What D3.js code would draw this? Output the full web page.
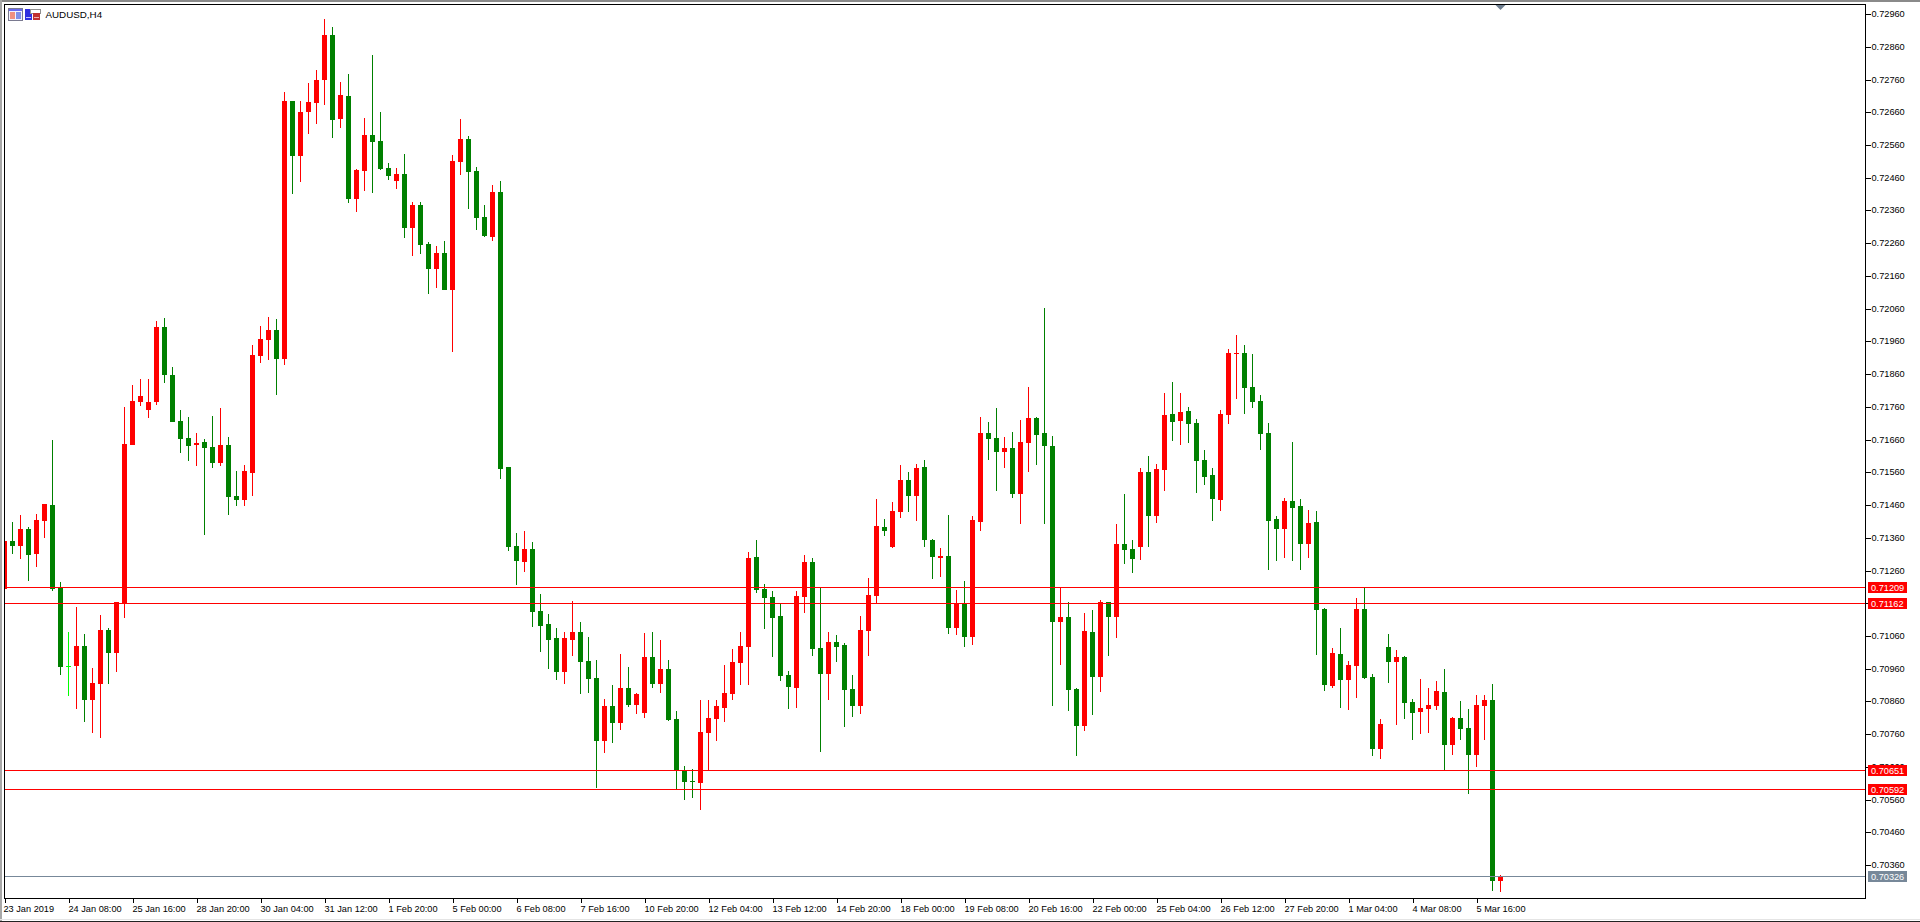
<!DOCTYPE html>
<html>
<head>
<meta charset="utf-8">
<title>AUDUSD,H4</title>
<script src="https://cdnjs.cloudflare.com/ajax/libs/d3/7.8.5/d3.min.js"></script>
<style>
  html, body { margin: 0; padding: 0; background: #fff; overflow: hidden; }
  svg { display: block; }
  text { font-family: "Liberation Sans", Arial, sans-serif; font-size: 9.2px; fill: #000; }
</style>
</head>
<body>
<svg id="chart" width="1920" height="922"></svg>
<script>
// AUDUSD four-hour bars, oldest first
const opens = [
0.71205,0.71351,0.71336,0.71388,0.71312,0.71412,0.71461,0.71209,0.70969,0.70970,
0.71031,0.70866,0.70915,0.71080,0.71009,0.71162,0.71645,0.71776,0.71752,0.71776,
0.72005,0.71859,0.71718,0.71666,0.71645,0.71654,0.71639,0.71590,0.71645,0.71489,
0.71477,0.71559,0.71917,0.71966,0.71996,0.71907,0.72696,0.72528,0.72662,0.72690,
0.72760,0.72897,0.72641,0.72711,0.72396,0.72482,0.72592,0.72574,0.72491,0.72451,
0.72473,0.72308,0.72378,0.72259,0.72182,0.72231,0.72118,0.72509,0.72580,0.72482,
0.72341,0.72280,0.72418,0.71578,0.71336,0.71287,0.71327,0.71138,0.71098,0.71055,
0.70951,0.71049,0.71073,0.70985,0.70933,0.70740,0.70847,0.70795,0.70902,0.70850,
0.70826,0.70997,0.70915,0.70960,0.70808,0.70649,0.70618,0.70612,0.70765,0.70808,
0.70841,0.70884,0.70979,0.71028,0.71303,0.71205,0.71180,0.71122,0.70942,0.70902,
0.71180,0.71287,0.71025,0.70945,0.71043,0.71034,0.70899,0.70847,0.71076,0.71183,
0.71394,0.71333,0.71440,0.71538,0.71489,0.71578,0.71355,0.71300,0.71306,0.71086,
0.71162,0.71058,0.71410,0.71681,0.71666,0.71623,0.71636,0.71495,0.71651,0.71727,
0.71681,0.71642,0.71104,0.71119,0.70899,0.70786,0.71073,0.70936,0.71165,0.71119,
0.71342,0.71327,0.71333,0.71562,0.71428,0.71568,0.71739,0.71718,0.71749,0.71712,
0.71599,0.71553,0.71477,0.71736,0.71923,0.71926,0.71822,0.71779,0.71681,0.71419,
0.71388,0.71474,0.71458,0.71342,0.71410,0.71144,0.70908,0.71006,0.70927,0.70970,
0.71144,0.70936,0.70716,0.71028,0.70982,0.70997,0.70860,0.70829,0.70838,0.70847,
0.70890,0.70728,0.70811,0.70780,0.70698,0.70847,0.70866,0.70313];

const closes = [
0.71351,0.71336,0.71388,0.71309,0.71416,0.71465,0.71205,0.70966,0.70969,0.71031,
0.70866,0.70918,0.71080,0.71009,0.71165,0.71648,0.71779,0.71794,0.71776,0.72005,
0.71859,0.71715,0.71663,0.71642,0.71651,0.71636,0.71590,0.71645,0.71486,0.71477,
0.71565,0.71920,0.71969,0.71996,0.71907,0.72696,0.72528,0.72662,0.72693,0.72760,
0.72897,0.72638,0.72714,0.72396,0.72485,0.72592,0.72570,0.72488,0.72467,0.72473,
0.72308,0.72378,0.72256,0.72182,0.72231,0.72118,0.72512,0.72580,0.72479,0.72338,
0.72283,0.72418,0.71571,0.71333,0.71290,0.71327,0.71135,0.71092,0.71049,0.70951,
0.71055,0.71073,0.70982,0.70930,0.70740,0.70847,0.70795,0.70902,0.70850,0.70884,
0.70997,0.70915,0.70960,0.70805,0.70652,0.70615,0.70615,0.70768,0.70811,0.70847,
0.70887,0.70982,0.71031,0.71300,0.71202,0.71177,0.71116,0.70939,0.70905,0.71183,
0.71287,0.71022,0.70945,0.71043,0.71028,0.70896,0.70847,0.71080,0.71187,0.71397,
0.71382,0.71443,0.71538,0.71489,0.71574,0.71355,0.71303,0.71306,0.71086,0.71162,
0.71058,0.71416,0.71681,0.71663,0.71623,0.71636,0.71495,0.71654,0.71727,0.71675,
0.71642,0.71104,0.71119,0.70896,0.70786,0.71076,0.70936,0.71165,0.71119,0.71342,
0.71324,0.71296,0.71562,0.71428,0.71571,0.71736,0.71715,0.71746,0.71709,0.71596,
0.71547,0.71480,0.71739,0.71926,0.71926,0.71819,0.71776,0.71678,0.71412,0.71388,
0.71474,0.71452,0.71342,0.71406,0.71141,0.70912,0.71009,0.70927,0.70973,0.71144,
0.70933,0.70716,0.70792,0.70982,0.70997,0.70857,0.70826,0.70841,0.70850,0.70893,
0.70728,0.70811,0.70777,0.70698,0.70850,0.70866,0.70313,0.70326];

const highs = [
0.71351,0.71410,0.71431,0.71394,0.71434,0.71465,0.71660,0.71226,0.71073,0.71150,
0.71067,0.70963,0.71125,0.71086,0.71165,0.71761,0.71828,0.71846,0.71846,0.72023,
0.72033,0.71883,0.71752,0.71730,0.71681,0.71663,0.71733,0.71758,0.71669,0.71565,
0.71584,0.71950,0.72008,0.72036,0.72030,0.72723,0.72696,0.72696,0.72751,0.72790,
0.72946,0.72922,0.72754,0.72778,0.72488,0.72644,0.72836,0.72662,0.72506,0.72491,
0.72534,0.72387,0.72387,0.72265,0.72253,0.72268,0.72531,0.72641,0.72589,0.72494,
0.72378,0.72439,0.72451,0.71578,0.71376,0.71382,0.71348,0.71190,0.71128,0.71086,
0.71073,0.71168,0.71104,0.71058,0.70988,0.70869,0.70912,0.71006,0.70966,0.70887,
0.71070,0.71073,0.71049,0.70988,0.70832,0.70664,0.70655,0.70866,0.70866,0.70866,
0.70973,0.71022,0.71073,0.71318,0.71355,0.71220,0.71199,0.71159,0.70954,0.71199,
0.71309,0.71300,0.71211,0.71073,0.71064,0.71040,0.70942,0.71122,0.71238,0.71480,
0.71419,0.71471,0.71584,0.71562,0.71587,0.71599,0.71358,0.71330,0.71431,0.71202,
0.71229,0.71428,0.71730,0.71715,0.71758,0.71669,0.71684,0.71721,0.71822,0.71730,
0.72063,0.71672,0.71211,0.71165,0.70902,0.71132,0.71141,0.71171,0.71165,0.71403,
0.71495,0.71355,0.71574,0.71611,0.71587,0.71804,0.71837,0.71804,0.71761,0.71724,
0.71629,0.71574,0.71752,0.71938,0.71981,0.71950,0.71923,0.71798,0.71712,0.71428,
0.71483,0.71654,0.71480,0.71446,0.71443,0.71147,0.71025,0.71086,0.70985,0.71177,
0.71211,0.70945,0.70808,0.71067,0.71018,0.71000,0.70869,0.70930,0.70902,0.70924,
0.70960,0.70814,0.70863,0.70838,0.70881,0.70881,0.70915,0.70331];

const lows = [
0.71202,0.71312,0.71296,0.71229,0.71272,0.71361,0.71199,0.70942,0.70878,0.70838,
0.70798,0.70765,0.70750,0.70915,0.70951,0.71116,0.71645,0.71764,0.71727,0.71767,
0.71834,0.71715,0.71620,0.71596,0.71581,0.71370,0.71574,0.71581,0.71431,0.71458,
0.71458,0.71489,0.71895,0.71904,0.71797,0.71889,0.72412,0.72448,0.72595,0.72625,
0.72684,0.72583,0.72613,0.72384,0.72357,0.72421,0.72415,0.72485,0.72454,0.72427,
0.72277,0.72222,0.72228,0.72106,0.72124,0.72118,0.71929,0.72470,0.72366,0.72302,
0.72280,0.72268,0.71541,0.71321,0.71217,0.71257,0.71089,0.71012,0.70960,0.70927,
0.70915,0.71000,0.70884,0.70887,0.70597,0.70704,0.70734,0.70774,0.70844,0.70823,
0.70811,0.70902,0.70887,0.70802,0.70594,0.70560,0.70566,0.70530,0.70652,0.70740,
0.70798,0.70866,0.70912,0.70912,0.71193,0.71083,0.70997,0.70924,0.70838,0.70841,
0.71132,0.71000,0.70707,0.70866,0.70982,0.70783,0.70814,0.70823,0.71000,0.71162,
0.71367,0.71330,0.71422,0.71440,0.71412,0.71333,0.71235,0.71241,0.71067,0.71064,
0.71028,0.71034,0.71382,0.71599,0.71504,0.71574,0.71483,0.71403,0.71562,0.71584,
0.71403,0.70847,0.70973,0.70832,0.70695,0.70771,0.70820,0.70890,0.71000,0.71055,
0.71281,0.71254,0.71293,0.71333,0.71406,0.71504,0.71657,0.71645,0.71651,0.71498,
0.71522,0.71412,0.71443,0.71709,0.71785,0.71739,0.71758,0.71629,0.71263,0.71290,
0.71300,0.71290,0.71263,0.71300,0.71003,0.70893,0.70902,0.70841,0.70835,0.70872,
0.70930,0.70695,0.70685,0.70918,0.70789,0.70808,0.70744,0.70762,0.70765,0.70835,
0.70652,0.70698,0.70744,0.70579,0.70661,0.70744,0.70282,0.70279];

// Time axis captions, one for every eighth bar
const dateLabels = [
"23 Jan 2019","24 Jan 08:00","25 Jan 16:00","28 Jan 20:00","30 Jan 04:00","31 Jan 12:00",
"1 Feb 20:00","5 Feb 00:00","6 Feb 08:00","7 Feb 16:00","10 Feb 20:00","12 Feb 04:00",
"13 Feb 12:00","14 Feb 20:00","18 Feb 00:00","19 Feb 08:00","20 Feb 16:00","22 Feb 00:00",
"25 Feb 04:00","26 Feb 12:00","27 Feb 20:00","1 Mar 04:00","4 Mar 08:00","5 Mar 16:00"];
const barsPerLabel = 8;

// Price axis grid
const priceTicks = [
0.72960,0.72860,0.72760,0.72660,0.72560,0.72460,0.72360,0.72260,0.72160,0.72060,
0.71960,0.71860,0.71760,0.71660,0.71560,0.71460,0.71360,0.71260,0.71160,0.71060,
0.70960,0.70860,0.70760,0.70660,0.70560,0.70460,0.70360];

// Horizontal levels and the current bid line
const levels = [0.71209, 0.71162, 0.70651, 0.70592];
const bid = 0.70326;

const symbolTitle = "AUDUSD,H4";
const BULL = "#ff0000", BEAR = "#008000", DOJI = "#00ff00", BID = "#778899";

const bars = opens.map((o, i) => ({ i, open: o, close: closes[i], high: highs[i], low: lows[i] }));

const svg = d3.select("#chart");
const plot = { left: 4, top: 4, right: 1865, bottom: 898 };

const x = d3.scaleLinear().domain([0, bars.length - 1]).range([4.5, 1500.5]);
const y = d3.scaleLinear().domain([0.7296, 0.7036]).range([14.5, 865.5]);
// Pixel row of a horizontal one-pixel line at a given price
const row = p => Math.floor(y(p) + 0.1);

// Window chrome
svg.append("rect").attr("width", 1920).attr("height", 2).attr("fill", "#8a8a8a");
svg.append("rect").attr("width", 2).attr("height", 922).attr("fill", "#a8a8a8");
svg.append("rect").attr("y", 919).attr("width", 1920).attr("height", 1).attr("fill", "#e4e4e4");
svg.append("rect").attr("y", 921).attr("width", 1920).attr("height", 1).attr("fill", "#222");

svg.append("defs").append("clipPath").attr("id", "plot-clip").append("rect")
  .attr("x", plot.left + 1).attr("y", plot.top + 1)
  .attr("width", plot.right - plot.left - 1).attr("height", plot.bottom - plot.top - 1);

const marks = svg.append("g").attr("clip-path", "url(#plot-clip)").attr("shape-rendering", "crispEdges");

const colour = d => d.close > d.open ? BULL : d.close < d.open ? BEAR : DOJI;

// Wicks
marks.append("g").selectAll("rect").data(bars).join("rect")
  .attr("x", d => x(d.i) - 0.5)
  .attr("y", d => Math.round(y(d.high)))
  .attr("width", 1)
  .attr("height", d => Math.max(1, Math.round(y(d.low)) - Math.round(y(d.high))))
  .attr("fill", colour);

// Bodies
marks.append("g").selectAll("rect").data(bars).join("rect")
  .attr("x", d => x(d.i) - 2.5)
  .attr("y", d => Math.round(y(Math.max(d.open, d.close))))
  .attr("width", 5)
  .attr("height", d => Math.max(1, Math.round(y(Math.min(d.open, d.close))) - Math.round(y(Math.max(d.open, d.close)))))
  .attr("fill", colour);

// Level lines run across the bars
marks.append("g").selectAll("rect").data(levels).join("rect")
  .attr("x", plot.left).attr("width", plot.right - plot.left).attr("height", 1)
  .attr("y", d => row(d)).attr("fill", BULL);
marks.append("rect")
  .attr("x", plot.left).attr("width", plot.right - plot.left).attr("height", 1)
  .attr("y", row(bid)).attr("fill", BID);

// Plot frame
svg.append("rect")
  .attr("x", plot.left + 0.5).attr("y", plot.top + 0.5)
  .attr("width", plot.right - plot.left).attr("height", plot.bottom - plot.top)
  .attr("fill", "none").attr("stroke", "#000").attr("shape-rendering", "crispEdges");

// Price axis
const yAxis = svg.append("g")
  .attr("transform", `translate(${plot.right + 0.5},0)`)
  .call(d3.axisRight(y).tickValues(priceTicks).tickFormat(d3.format(".5f")).tickSize(5).tickSizeOuter(0).tickPadding(1));
yAxis.select(".domain").remove();
yAxis.selectAll(".tick")
  .attr("transform", d => `translate(0,${row(d) + 0.5})`);
yAxis.selectAll(".tick line").attr("stroke", "#000").attr("shape-rendering", "crispEdges");
yAxis.selectAll(".tick text").attr("fill", "#000");
yAxis.attr("font-size", null).attr("font-family", null);

// Time axis
const xAxis = svg.append("g")
  .attr("transform", `translate(0,${plot.bottom + 0.5})`)
  .call(d3.axisBottom(x)
    .tickValues(dateLabels.map((_, n) => n * barsPerLabel))
    .tickFormat(v => dateLabels[v / barsPerLabel])
    .tickSize(4).tickSizeOuter(0));
xAxis.select(".domain").remove();
xAxis.attr("font-size", null).attr("font-family", null);
xAxis.selectAll(".tick line").attr("stroke", "#000").attr("shape-rendering", "crispEdges");
xAxis.selectAll(".tick text")
  .attr("text-anchor", "start").attr("x", (d, n) => n === 0 ? -1.5 : -0.5)
  .attr("y", 13).attr("dy", 0).attr("fill", "#000");

// Price tags on the axis
const tags = [...levels.map(v => ({ v, c: BULL })), { v: bid, c: BID }];
const tag = svg.append("g").selectAll("g").data(tags).join("g")
  .attr("transform", d => `translate(1868,${row(d.v) - 5})`);
tag.append("rect").attr("width", 39).attr("height", 11).attr("fill", d => d.c).attr("shape-rendering", "crispEdges");
tag.append("text").attr("x", 3).attr("y", 8.5).style("fill", "#fff").text(d => d.v.toFixed(5));

// Shift marker on the top edge, above the newest bar
svg.append("path")
  .attr("d", d3.line()([[x(bars.length - 1) - 5, 5], [x(bars.length - 1) + 5, 5], [x(bars.length - 1), 10]]))
  .attr("fill", "#6f7f90");

// Title and trade-mode icons
const icons = svg.append("g").attr("shape-rendering", "crispEdges");
icons.append("rect").attr("x", 8.5).attr("y", 8.5).attr("width", 14).attr("height", 12).attr("fill", "#f2f2ff").attr("stroke", "#7a7a90");
icons.append("rect").attr("x", 9).attr("y", 9).attr("width", 13).attr("height", 2).attr("fill", "#6a6af0");
icons.append("rect").attr("x", 10).attr("y", 12).attr("width", 5).attr("height", 7).attr("fill", "#f09080");
icons.append("rect").attr("x", 16).attr("y", 12).attr("width", 5).attr("height", 7).attr("fill", "#8090e8");
icons.append("rect").attr("x", 25).attr("y", 9).attr("width", 7).attr("height", 11).attr("fill", "#3030e0");
icons.append("rect").attr("x", 26).attr("y", 17).attr("width", 5).attr("height", 1).attr("fill", "#c0c0ff");
icons.append("rect").attr("x", 30).attr("y", 9).attr("width", 10).attr("height", 4).attr("fill", "#fff").attr("stroke", "#909090");
icons.append("rect").attr("x", 33).attr("y", 13).attr("width", 7).attr("height", 7).attr("fill", "#c03030");
icons.append("rect").attr("x", 34).attr("y", 17).attr("width", 5).attr("height", 1).attr("fill", "#f0b0b0");

svg.append("text").attr("x", 45.5).attr("y", 18).style("font-size", "9.8px").text(symbolTitle);
</script>
</body>
</html>
